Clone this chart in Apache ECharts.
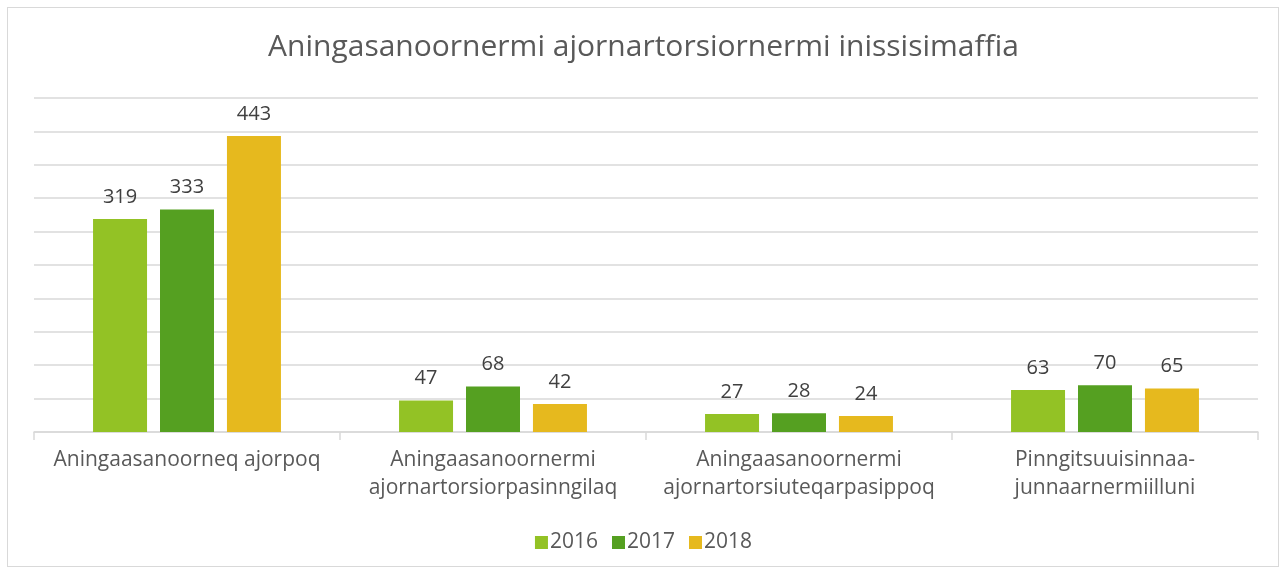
<!DOCTYPE html>
<html>
<head>
<meta charset="utf-8">
<script src="https://cdn.jsdelivr.net/npm/echarts@6/dist/echarts.min.js"></script>
<style>
  html, body { margin: 0; padding: 0; background: #fff; }
  #frame { position: absolute; left: 7px; top: 7px; width: 1272px; height: 560px; border: 1px solid #d9d9d9; box-sizing: border-box; }
  #main { position: absolute; left: 0; top: 0; width: 1287px; height: 573px; }
</style>
</head>
<body>
<div id="frame"></div>
<div id="main"></div>
<script>
// tekstit ja arvot
var titleText = 'Aningasanoornermi ajornartorsiornermi inissisimaffia';
var categories = [
  'Aningaasanoorneq ajorpoq',
  'Aningaasanoornermi\najornartorsiorpasinngilaq',
  'Aningaasanoornermi\najornartorsiuteqarpasippoq',
  'Pinngitsuuisinnaa-\njunnaarnermiilluni'
];
var years = ['2016', '2017', '2018'];
var values2016 = [319, 47, 27, 63];
var values2017 = [333, 68, 28, 70];
var values2018 = [443, 42, 24, 65];
var colors = ['#93C225', '#55A021', '#E6B91E'];

var fontName = '"Open Sans", sans-serif';
var seriesData = [values2016, values2017, values2018];

var myChart = echarts.init(document.getElementById('main'));
myChart.setOption({
  animation: false,
  textStyle: { fontFamily: fontName },
  title: {
    text: titleText,
    left: 'center',
    top: 27,
    textStyle: { fontFamily: fontName, fontSize: 30, fontWeight: 'normal', color: '#595959' }
  },
  legend: {
    data: years,
    bottom: 15,
    left: 'center',
    itemWidth: 13,
    itemHeight: 13,
    itemGap: 14,
    icon: 'rect',
    textStyle: { fontFamily: fontName, fontSize: 21, color: '#595959', padding: [0, 0, 0, -3] }
  },
  grid: { left: 34, right: 29, top: 98, bottom: 141, containLabel: false },
  xAxis: {
    type: 'category',
    data: categories,
    axisLine: { lineStyle: { color: '#d9d9d9', width: 1.5 } },
    axisTick: { show: true, length: 8, lineStyle: { color: '#d9d9d9', width: 1.5 } },
    axisLabel: { fontFamily: fontName, fontSize: 21, color: '#595959', margin: 14, lineHeight: 28, interval: 0 }
  },
  yAxis: {
    type: 'value',
    min: 0,
    max: 500,
    interval: 50,
    axisLine: { show: false },
    axisTick: { show: false },
    axisLabel: { show: false },
    splitLine: { lineStyle: { color: '#d9d9d9', width: 1.5 } }
  },
  series: years.map(function (y, i) {
    return {
      name: y,
      type: 'bar',
      data: seriesData[i],
      barWidth: 54,
      barGap: '24%',
      itemStyle: { color: colors[i] },
      label: {
        show: true,
        position: 'top',
        distance: 12,
        fontFamily: fontName,
        fontSize: 20,
        color: '#404040'
      }
    };
  })
});
</script>
</body>
</html>
